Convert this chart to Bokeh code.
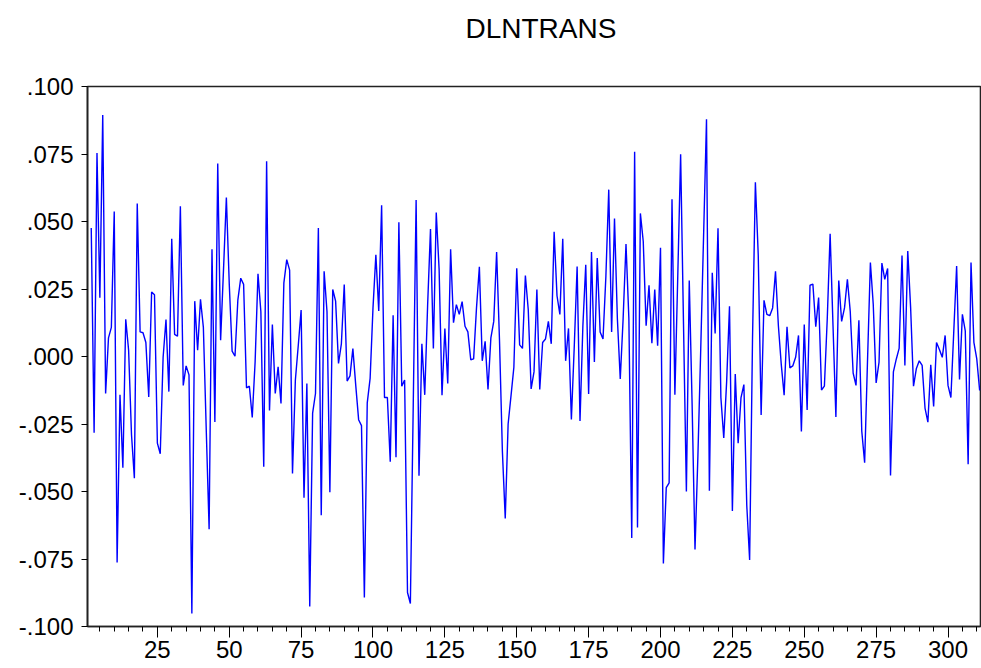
from bokeh.plotting import figure
from bokeh.models import Range1d, SingleIntervalTicker, CustomJSTickFormatter, Title
from bokeh.embed import file_html
from bokeh.resources import INLINE

# DLNTRANS values, observations 2..311 (obs 1 is NA after differencing)
vals_a = [0.0476, -0.0282, 0.0754, 0.0218, 0.0894, -0.0137, 0.0069, 0.0108, 0.0537, -0.0763,
          -0.0142, -0.0412, 0.0138, 0.0023, -0.0289, -0.0451, 0.0567, 0.0091, 0.0088, 0.0052,
          -0.0150, 0.0239, 0.0229, -0.0321, -0.0360, -0.0003, 0.0137, -0.0130, 0.0436, 0.0082,
          0.0075, 0.0556, -0.0107, -0.0035, -0.0068, -0.0952, 0.0205, 0.0023, 0.0212, 0.0108,
          -0.027, -0.064, 0.0397, -0.0243, 0.0715, 0.0060, 0.032, 0.0589, 0.027, 0.002,
          0.0001, 0.021, 0.029, 0.0267, -0.0116, -0.011, -0.0226, -0.002, 0.0306, 0.0166,
          -0.0408, 0.0723]
vals_b = [-0.020, 0.0118, -0.0137, -0.0038, -0.0174, 0.0273, 0.0359, 0.032, -0.0433, -0.0087,
          0.004, 0.0172, -0.0523, -0.010, -0.0926, -0.021, -0.0137, 0.0476, -0.0588, 0.0316,
          0.0166, -0.0503, 0.0248, 0.0205, -0.0026, 0.0047, 0.0267, -0.0091, -0.0072, 0.0029,
          -0.0107, -0.0234, -0.0256, -0.0893, -0.0172, -0.0081, 0.018, 0.0377, 0.0169, 0.056,
          -0.0152, -0.0152, -0.039, 0.0153, -0.0373, 0.0497, -0.011, -0.0087, -0.0874, -0.0915,
          -0.018, 0.058, -0.0442, 0.0047, -0.0142, 0.019, 0.0472, 0.003, 0.0533, 0.0322,
          -0.0143, 0.0104]
vals_c = [-0.010, 0.0397, 0.0125, 0.0192, 0.0156, 0.0203, 0.0112, 0.0091, -0.0012, -0.0009,
          0.018, 0.0332, -0.0016, 0.0056, -0.0122, 0.0069, 0.013, 0.0387, 0.006, -0.035,
          -0.060, -0.025, -0.0146, -0.004, 0.0327, 0.0043, 0.003, 0.030, 0.0173, -0.012,
          -0.0057, 0.0248, -0.0122, 0.0052, 0.0065, 0.013, 0.0047, 0.0462, 0.0225, 0.0156,
          0.0436, -0.0016, 0.0104, -0.0233, 0.0036, 0.0333, -0.0239, 0.0114, 0.034, -0.0139,
          0.0387, -0.002, 0.0365, 0.0091, 0.0065, 0.0296, 0.0618, 0.0091, 0.0511, 0.014,
          -0.0083, 0.014]
vals_d = [0.0417, 0.014, -0.0672, 0.0758, -0.0633, 0.053, 0.0426, 0.0114, 0.0264, 0.0049,
          0.0248, 0.004, 0.0403, -0.0767, -0.0486, -0.0468, 0.0582, -0.0142, 0.0296, 0.0749,
          0.012, -0.050, 0.0281, -0.018, -0.0715, -0.037, 0.003, 0.0454, 0.0879, -0.0497,
          0.031, 0.0085, 0.0475, -0.0152, -0.0302, -0.0094, 0.0186, -0.0572, -0.0065, -0.0321,
          -0.0152, -0.0104, -0.055, -0.0754, 0.0062, 0.0645, 0.0374, -0.0217, 0.0208, 0.0156,
          0.0151, 0.018, 0.0316, 0.0114, -0.0029, -0.0143, 0.011, -0.0042, -0.0035, -0.0003,
          0.0078, -0.0278]
vals_e = [0.0118, -0.0198, 0.0264, 0.0268, 0.011, 0.0218, -0.0124, -0.011, 0.014, 0.0455,
          0.0114, -0.0224, 0.0281, 0.013, 0.018, 0.0286, 0.0166, -0.0061, -0.0107, 0.0134,
          -0.0276, -0.0393, -0.0016, 0.0348, 0.0192, -0.0098, -0.0022, 0.0346, 0.0286, 0.0326,
          -0.0441, -0.0057, -0.001, 0.003, 0.0374, -0.0033, 0.0391, 0.018, -0.011, -0.0044,
          -0.0016, -0.0033, -0.0191, -0.0243, -0.0031, -0.0185, 0.0052, 0.0026, -0.0003, 0.0078,
          -0.0107, -0.0152, 0.0092, 0.0335, -0.0085, 0.0156, 0.0095, -0.0399, 0.0348, 0.0052,
          -0.0009, -0.0126]

values = vals_a + vals_b + vals_c + vals_d + vals_e
first_obs = 2
obs = list(range(first_obs, first_obs + len(values)))

title_text = "DLNTRANS"
FONT = "Liberation Sans"

p = figure(width=981, height=668, output_backend="svg", toolbar_location=None,
           x_range=Range1d(0.7, 311.3), y_range=Range1d(-0.1, 0.1),
           min_border_left=87, min_border_right=1, min_border_top=86, min_border_bottom=42)

# blank spacer between the frame and the title (first added = nearest the frame)
p.add_layout(Title(text=" ", text_font=FONT, text_font_size="10px", standoff=28), "above")
p.add_layout(Title(text=title_text, align="left", offset=378, vertical_align="top",
                   standoff=0, text_font=FONT, text_font_size="28px",
                   text_font_style="normal", text_color="black"), "above")

p.line(obs, values, line_color="#0000ff", line_width=1.4)

p.xgrid.visible = False
p.ygrid.visible = False
p.background_fill_color = "white"
p.border_fill_color = "white"
p.outline_line_color = "#222222"
p.outline_line_width = 1.6

xa = p.xaxis[0]
xa.ticker = SingleIntervalTicker(interval=25, num_minor_ticks=5)
xa.major_tick_out = 11
xa.major_tick_in = 0
xa.minor_tick_out = 5
xa.minor_tick_in = 0
xa.major_label_standoff = 3
xa.major_label_text_font = FONT
xa.major_label_text_font_size = "24px"
xa.major_label_text_color = "black"
xa.axis_line_color = "#222222"
xa.axis_line_width = 1.6

ya = p.yaxis[0]
ya.ticker = SingleIntervalTicker(interval=0.025, num_minor_ticks=0)
ya.formatter = CustomJSTickFormatter(code="""
    const s = Math.abs(tick).toFixed(3).replace(/^0/, '');
    return (tick < -1e-9 ? '-' : '') + s;
""")
ya.major_tick_out = 6
ya.major_tick_in = 0
ya.minor_tick_out = 0
ya.minor_tick_in = 0
ya.major_label_standoff = 8
ya.major_label_text_font = FONT
ya.major_label_text_font_size = "24px"
ya.major_label_text_color = "black"
ya.axis_line_color = "#222222"
ya.axis_line_width = 1.6

open("out.html", "w").write(file_html(p, INLINE))
